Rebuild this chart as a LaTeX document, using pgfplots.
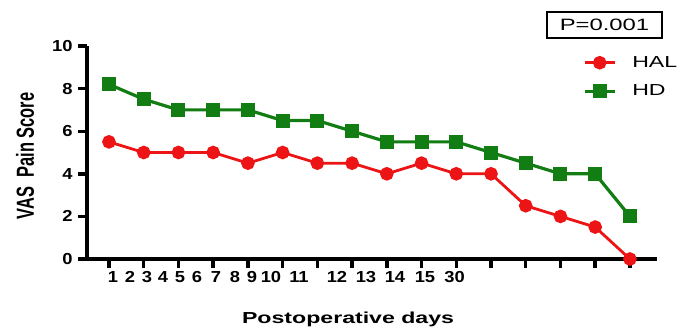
\documentclass[border=0pt]{standalone}
\usepackage{fontspec}
\setmainfont{Liberation Sans}
\newfontfamily\widefont[FakeStretch=1.45]{Liberation Sans}
\newfontfamily\tickfont[FakeStretch=1.15]{Liberation Sans}
\usepackage{graphicx}
\usepackage{pgfplots}
\pgfplotsset{compat=1.18}
\definecolor{hred}{RGB}{236,20,20}
\definecolor{hgreen}{RGB}{18,125,18}
\begin{document}
\begin{tikzpicture}[x=1bp,y=1bp]
\useasboundingbox (0,0) rectangle (689,327);
\begin{axis}[
  at={(87bp,68bp)}, anchor=south west,
  scale only axis, width=570bp, height=213bp,
  xmin=0.367, xmax=16.78, ymin=0, ymax=10,
  clip=false,
  axis x line*=bottom, axis y line*=left,
  axis line style={line width=3.2bp, -},
  tick align=outside,
  major tick length=9bp,
  tick style={line width=3.4bp, black},
  /pgf/number format/assume math mode=true,
  ytick={0,2,4,6,8,10},
  yticklabel style={font=\fontsize{16}{16}\selectfont\tickfont\bfseries, xshift=-2bp},
  xtick={1,2,3,4,5,6,7,8,9,10,11,12,13,14,15,16},
  xticklabels={},
  extra x ticks={1.115,1.605,2.094,2.555,3.044,3.534,4.081,4.628,5.118,5.665,6.471,7.565,8.400,9.235,10.099,10.95},
  extra x tick labels={1,2,3,4,5,6,7,8,9,10,11,12,13,14,15,30},
  extra x tick style={tick style={draw=none}, tick label style={font=\fontsize{16}{16}\selectfont\tickfont\bfseries}},
  xlabel={Postoperative days},
  xlabel style={font=\fontsize{16}{16}\selectfont\widefont\bfseries, at={(axis description cs:0.458,-0.3005)}, anchor=base},
  ylabel={\scalebox{1}[1.5]{VAS\ \ Pain Score}},
  ylabel style={font=\fontsize{16.5}{16.5}\selectfont\bfseries, at={(axis description cs:-0.1088,0.484)}, anchor=center},
  legend style={draw=none, fill=none, at={(axis description cs:0.870,0.961)}, anchor=north west,
    font=\fontsize{16}{16}\selectfont\widefont, row sep=12bp, column sep=14bp, inner sep=0pt},
  legend cell align=left,
  legend image code/.code={\draw[mark repeat=2,mark phase=2] plot coordinates {(0bp,0bp)(15bp,0bp)(30bp,0bp)};},
]
\addplot[hred, line width=2.8bp, mark=*, mark size=5.4bp, mark options={solid}]
coordinates {(1,5.5)(2,5)(3,5)(4,5)(5,4.5)(6,5)(7,4.5)(8,4.5)(9,4)(10,4.5)(11,4)(12,4)(13,2.5)(14,2)(15,1.5)(16,0)};
\addlegendentry{HAL}
\addplot[hgreen, line width=3.2bp, mark=square*, mark size=5.4bp, mark options={solid}]
coordinates {(1,8.2)(2,7.5)(3,7)(4,7)(5,7)(6,6.5)(7,6.5)(8,6)(9,5.5)(10,5.5)(11,5.5)(12,5)(13,4.5)(14,4)(15,4)(16,2)};
\addlegendentry{HD}
\end{axis}
\node[draw, line width=2.2bp, minimum width=115bp, minimum height=26bp, inner sep=0pt, font=\fontsize{16.5}{16.5}\selectfont\widefont] at (604.5,302) {P=0.001};
\end{tikzpicture}
\end{document}
